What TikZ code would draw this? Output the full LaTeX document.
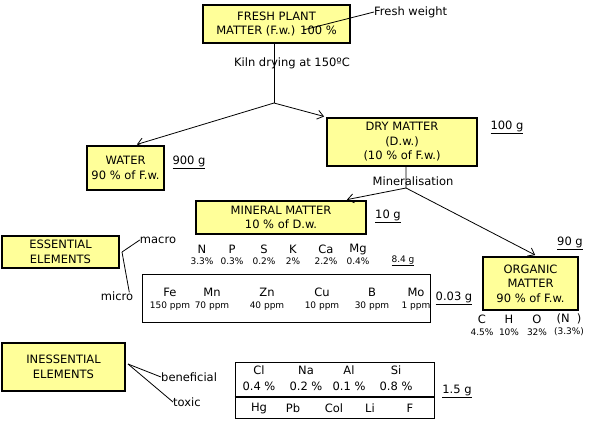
\documentclass[tikz,border=0pt]{standalone}
\usepackage{fontspec}
\setmainfont{DejaVu Sans}
\usetikzlibrary{arrows.meta}
\definecolor{boxyellow}{RGB}{255,255,153}
\tikzset{
  ybox/.style={draw=black, line width=2bp, fill=boxyellow, align=center, inner sep=0pt, font=\mainfs},
  wbox/.style={draw=black, line width=1bp, fill=white, inner sep=0pt},
  lbl/.style={inner sep=0pt, font=\mainfs, align=center},
  sml/.style={inner sep=0pt, font=\smallfs, align=center},
  conn/.style={line width=0.8bp},
  arr/.style={line width=0.8bp, -{Straight Barb[length=6bp,width=9bp,line width=0.8bp]}, shorten >=2bp},
}
\newcommand{\mainfs}{\fontsize{11.5bp}{14.5bp}\selectfont}
\newcommand{\smallfs}{\fontsize{9bp}{10.5bp}\selectfont}
\begin{document}
\begin{tikzpicture}[x=1bp,y=-1bp]
\useasboundingbox (0,0) rectangle (593,420);
% boxes
\node[ybox, minimum width=147bp, minimum height=38bp] (fresh) at (276.5,24) {FRESH PLANT\\MATTER (F.w.) 100 \%};
\node[ybox, minimum width=77bp, minimum height=44bp] (water) at (125.5,168) {WATER\\90 \% of F.w.};
\node[ybox, minimum width=150bp, minimum height=48bp] (dry) at (402,142) {DRY MATTER\\(D.w.)\\(10 \% of F.w.)};
\node[ybox, minimum width=170bp, minimum height=33bp] (mineral) at (281,217.5) {MINERAL MATTER\\10 \% of D.w.};
\node[ybox, minimum width=117bp, minimum height=32bp] (ess) at (60.5,252) {ESSENTIAL\\ELEMENTS};
\node[ybox, minimum width=95bp, minimum height=53bp] (org) at (530.5,283.5) {ORGANIC\\MATTER\\90 \% of F.w.};
\node[ybox, minimum width=123bp, minimum height=48bp] (iness) at (63.5,367) {INESSENTIAL\\ELEMENTS};
\node[wbox, minimum width=288bp, minimum height=48bp] (micbox) at (286,298) {};
\node[wbox, minimum width=199bp, minimum height=56bp] (tab) at (234.5,362) [anchor=north west] {};
\draw[line width=2bp] (tab.west |- 0,397) coordinate (tl) -- (tab.east |- 0,397) coordinate (tr);

% fresh weight
\coordinate (fwp) at (303,30);
\node[lbl, anchor=west] (fwl) at (374,12) {Fresh weight};
\draw[conn] (fwp) -- (fwl.west);

% kiln drying
\coordinate (j1) at (274,103);
\node[lbl] (kiln) at (292,63) {Kiln drying at 150ºC};
\draw[conn] (fresh.south -| j1) -- (j1);
\draw[arr] (j1) -- ([xshift=9.5bp]water.north);
\draw[arr] (j1) -- (dry.north west);

% values
\node[lbl] (v900) at (189,162) {\underline{900 g}};
\node[lbl] (v100) at (507,127) {\underline{100 g}};
\node[lbl] (v10) at (388,216) {\underline{10 g}};
\node[lbl] (v90) at (570,243) {\underline{90 g}};
\node[sml] (v84) at (403,261) {\underline{8.4 g}};
\node[lbl] (v003) at (454,298) {\underline{0.03 g}};
\node[lbl] (v15) at (457,391) {\underline{1.5 g}};

% mineralisation
\coordinate (j2) at (406,188);
\node[lbl] (minl) at (413,181) {Mineralisation};
\draw[conn] ([xshift=4bp]dry.south) -- (j2);
\draw[arr] (j2) -- ([xshift=64bp]mineral.north);
\draw[arr] (j2) -- ([xshift=6.5bp]org.north);

% macro elements
\foreach \s/\p/\x [count=\i] in {N/3.3\%/202, P/0.3\%/232, S/0.2\%/264, K/2\%/293, Ca/2.2\%/326, Mg/0.4\%/358}{
  \node[lbl] (mac\i) at (\x,249) {\s};
  \node[sml] (macp\i) at (\x,261) {\p};
}

% micro elements
\foreach \s/\p/\x [count=\i] in {Fe/150 ppm/170, Mn/70 ppm/212, Zn/40 ppm/267, Cu/10 ppm/322, B/30 ppm/372, Mo/1 ppm/416}{
  \node[lbl] (mic\i) at (\x,292) {\s};
  \node[sml] (micp\i) at (\x,306) {\p};
}

% essential lines
\node[lbl] (macro) at (158,240) {macro};
\node[lbl] (micro) at (117,296) {micro};
\draw[conn] ([xshift=2bp]ess.east) -- (macro.west);
\draw[conn] ([xshift=2bp]ess.east) -- ([xshift=-4bp,yshift=-1bp]micro.north east);

% organic CHO
\foreach \s/\p/\x [count=\i] in {C/4.5\%/482, H/10\%/509, O/32\%/537, (N\ \ )/(3.3\%)/569}{
  \node[lbl] (cho\i) at (\x,319) {\s};
  \node[sml] (chop\i) at (\x,332) {\p};
}

% inessential
\node[lbl, anchor=west] (ben) at (161,377) {beneficial};
\node[lbl, anchor=west] (tox) at (173,402) {toxic};
\draw[conn] ([xshift=2bp,yshift=3bp]iness.east) -- (ben.west);
\draw[conn] ([xshift=2bp,yshift=3bp]iness.east) -- (tox.west);

% table content
\foreach \s/\p/\x [count=\i] in {Cl/0.4 \%/259, Na/0.2 \%/306, Al/0.1 \%/349, Si/0.8 \%/396}{
  \node[lbl] (ben\i) at (\x,370) {\s};
  \node[lbl] (benp\i) at (\x,386) {\p};
}
\foreach \s/\x [count=\i] in {Hg/259, Pb/293, Col/334, Li/370, F/410}{
  \node[lbl] (tox\i) at (\x,408) {\s};
}
\end{tikzpicture}
\end{document}
